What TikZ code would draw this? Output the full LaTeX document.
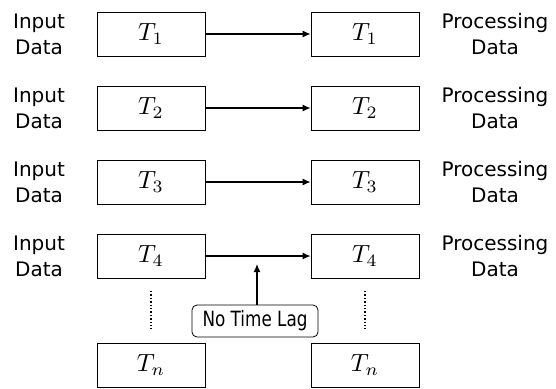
\documentclass[tikz,border=0pt]{standalone}
\usepackage{fontspec}
\setmainfont{DejaVu Sans}
\newfontfamily\lagfont[FakeStretch=0.8]{DejaVu Sans}
\usetikzlibrary{arrows.meta}

\newcommand{\tlabel}[1]{\resizebox{!}{17pt}{$T_{#1}$}}

\tikzset{
  tbox/.style={draw, line width=0.8pt, minimum width=108pt, minimum height=44pt, inner sep=0pt},
  lbl/.style={align=center, inner sep=0pt, font=\fontsize{20}{26}\selectfont},
  link/.style={-{Latex[length=8pt,width=7pt]}, line width=1.2pt}
}

\begin{document}
\begin{tikzpicture}[x=1pt, y=-1pt]

  \useasboundingbox (0,0) rectangle (556,388);

  % rows
  \foreach \i/\y in {1/34, 2/108, 3/182, 4/256} {
    \node [lbl] (inlbl\i) at (39,\y) {Input\\Data};
    \node [tbox] (in\i) at (151,\y) {\tlabel{\i}};
    \node [tbox] (out\i) at (365,\y) {\tlabel{\i}};
    \node [lbl] (outlbl\i) at (495,\y) {Processing\\Data};
    \draw [link] (in\i) -- (out\i);
  }

  % last row
  \node [tbox] (inn) at (151,365) {\tlabel{n}};
  \node [tbox] (outn) at (365,365) {\tlabel{n}};

  % dots
  \draw [dotted, line width=1.4pt] (151,291) -- (151,329);
  \draw [dotted, line width=1.4pt] (365,291) -- (365,329);

  % no time lag
  \node [draw, line width=0.8pt, rounded corners=5pt, minimum width=126pt, minimum height=32pt, inner sep=0pt,
    font=\lagfont\fontsize{21}{24}\selectfont] (lag) at (255,321) {No Time Lag};
  \coordinate (lagtip) at (257,264);
  \draw [link] (lag.north -| lagtip) -- (lagtip);

\end{tikzpicture}
\end{document}
